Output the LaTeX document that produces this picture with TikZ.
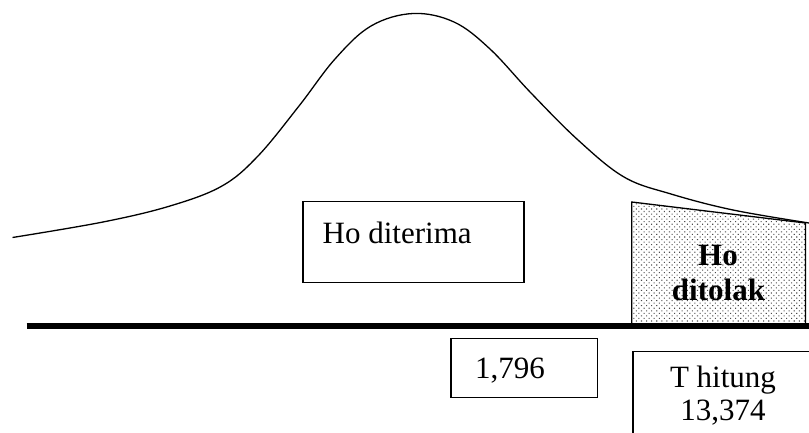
\documentclass[tikz,border=0pt]{standalone}
\usepackage{fontspec}
\setmainfont{Liberation Serif}
\usetikzlibrary{patterns.meta}
\begin{document}
\begin{tikzpicture}[x=1pt,y=-1pt,
  boxline/.style={draw=black,line width=1.4pt},
  lbl/.style={inner sep=0pt,font=\fontsize{31}{36}\selectfont},
  blbl/.style={inner sep=0pt,font=\fontsize{31}{36}\selectfont\bfseries}]
\useasboundingbox (0,0) rectangle (809,433);
\begin{scope}
\clip (0,0) rectangle (809,433);
% shaded rejection region
\coordinate (p1) at (631.7,202);
\coordinate (p2) at (805.5,223);
\coordinate (p3) at (805.5,324);
\coordinate (p4) at (631.7,324);
\draw[line width=1.3pt,pattern={Dots[angle=45,distance=3.6pt,radius=0.75pt]},pattern color=black!70] (p1) -- (p2) -- (p3) -- (p4) -- cycle;
% curve
\draw[line width=1.3pt,line join=round] plot[smooth,tension=0.6] coordinates {
 (12.5,237.5) (103,222) (170,206) (222,186) (258,156) (299,106) (335,59)
 (371,26) (413,13.5) (454,22) (490,49) (531,93) (578,140) (624,177)
 (671,194) (733,210) (809,223)};
% axis
\coordinate (axL) at (26.5,326);
\coordinate (axR) at (812,326);
\draw[line width=5.5pt] (axL) -- (axR);
% boxes
\node[boxline,minimum width=221pt,minimum height=81pt,inner sep=0pt] (terima) at (413.5,242) {};
\node[lbl,anchor=base west] (terimaT) at (322.5,243.5) {Ho diterima};
\node[boxline,minimum width=146.5pt,minimum height=59.5pt,inner sep=0pt] (ttabel) at (524.2,368) {};
\node[lbl,anchor=base west] (ttabelT) at (475,378.5) {1,796};
\node[boxline,minimum width=200pt,minimum height=120pt,inner sep=0pt,anchor=north west] (thit) at (632.3,350.5) {};
\node[lbl,anchor=base] (thitA) at (723,387) {T hitung};
\node[lbl,anchor=base] (thitB) at (723,420) {13,374};
\node[blbl,anchor=base] (tolakA) at (718,265) {Ho};
\node[blbl,anchor=base] (tolakB) at (718.5,300) {ditolak};
\end{scope}
\end{tikzpicture}
\end{document}
